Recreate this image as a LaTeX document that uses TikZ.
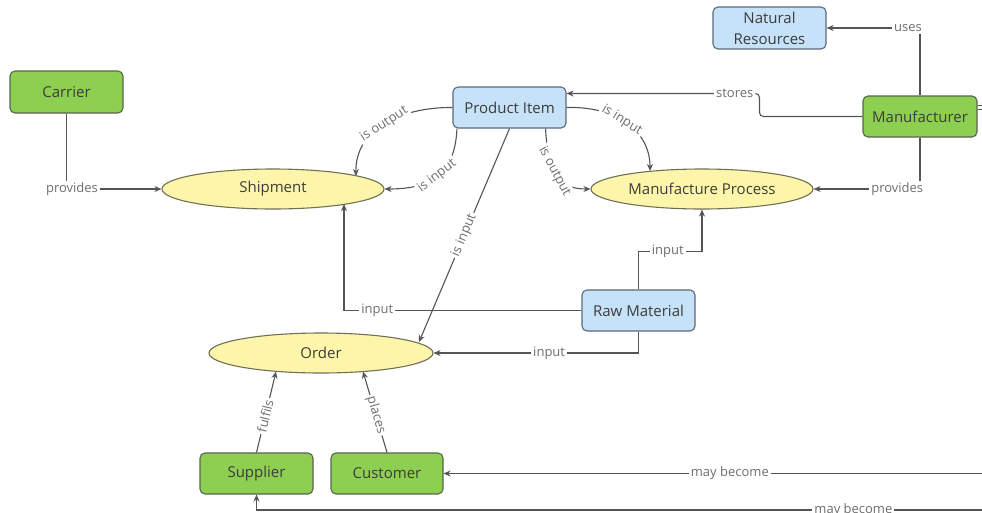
\documentclass[tikz,border=0pt]{standalone}
\usepackage{fontspec}
\setmainfont{Open Sans}
\usetikzlibrary{arrows.meta,calc,shapes.geometric}
\definecolor{gfill}{RGB}{141,207,80}
\definecolor{gdraw}{RGB}{88,100,80}
\definecolor{bfill}{RGB}{198,226,248}
\definecolor{bdraw}{RGB}{92,106,120}
\definecolor{yfill}{RGB}{253,246,170}
\definecolor{ydraw}{RGB}{112,112,84}
\definecolor{linec}{RGB}{85,85,85}
\definecolor{labc}{RGB}{110,110,110}
\definecolor{txtc}{RGB}{60,60,60}
\tikzset{
  boxbase/.style={rectangle, rounded corners=5pt, line width=1.1pt, inner sep=0pt,
    text=txtc, align=center, font=\fontsize{15}{21}\selectfont},
  gbox/.style={boxbase, fill=gfill, draw=gdraw},
  bbox/.style={boxbase, fill=bfill, draw=bdraw},
  ellbox/.style={ellipse, fill=yfill, draw=ydraw, line width=1.1pt, inner sep=0pt,
    minimum width=222pt, minimum height=40pt, text=txtc, font=\fontsize{15}{18}\selectfont},
  conn/.style={draw=linec, line width=1.1pt, -{Stealth[length=7pt,width=6pt]}},
  lab/.style={fill=white, text=labc, inner sep=2pt, font=\fontsize{13}{15}\selectfont},
}
\begin{document}
\begin{tikzpicture}[x=1pt,y=-1pt]
\fill[white] (0,0) rectangle (982,512);
\useasboundingbox (0,0) rectangle (982,512);

% nodes
\node[bbox, minimum width=113pt, minimum height=42pt] (nr) at (769.5,28) {Natural\\Resources};
\node[gbox, minimum width=113pt, minimum height=42pt] (carrier) at (66.5,92) {Carrier};
\node[bbox, minimum width=113pt, minimum height=41pt] (pi) at (509.5,107.5) {Product Item};
\node[gbox, minimum width=114pt, minimum height=41pt] (mf) at (920,116.5) {Manufacturer};
\node[ellbox] (ship) at (273,189) {Shipment};
\node[ellbox] (mp) at (702,189) {Manufacture Process};
\node[bbox, minimum width=113pt, minimum height=41pt] (rm) at (638.5,310.5) {Raw Material};
\node[ellbox, minimum width=224pt] (order) at (321,353) {Order};
\node[gbox, minimum width=113pt, minimum height=41pt] (sup) at (256.5,473.5) {Supplier};
\node[gbox, minimum width=112pt, minimum height=41pt] (cus) at (387,473.5) {Customer};

% off-canvas helper coordinates
\coordinate (offa) at (992,105);
\coordinate (offb) at (998,510);

% Manufacturer connectors
\draw[conn] (mf.north) |- (nr.east) node[lab, pos=0.564] {uses};
\draw[conn, rounded corners=4pt] (mf.west) -- ++(-103,0) |- ([yshift=14pt]pi.east) node[lab, pos=0.564] {stores};
\draw[conn] (mf.south) |- (mp.east) node[lab, pos=0.607] {provides};
\draw[conn] ([yshift=11pt]mf.east) -| (offa) |- (cus.east) node[lab, pos=0.739] {may become};
\draw[conn] ([yshift=7pt]mf.east) -| (offb) -| (sup.south) node[lab, pos=0.0975] {may become};

% Carrier
\draw[conn] (carrier.south) |- (ship.west) node[lab, pos=0.529] {provides};

% Product item curves
\draw[conn] (pi.west) .. controls (400,107) and (355,130) .. ($(ship.center)+(83pt,13pt)$)
  node[lab, sloped, pos=0.5] {is output};
\draw[conn] ([xshift=4.5pt]pi.south west) .. controls (455,175) and (430,189) .. (ship.east)
  node[lab, sloped, pos=0.5] {is input};
\draw[conn] (pi.east) .. controls (615,106) and (650,130) .. ($(mp.center)+(-52pt,18pt)$)
  node[lab, sloped, pos=0.45] {is input};
\draw[conn] ([xshift=-21pt]pi.south east) .. controls (548,175) and (560,189) .. (mp.west)
  node[lab, sloped, pos=0.42] {is output};
\draw[conn] (pi.south) -- ($(order.center)+(98pt,11pt)$) node[lab, sloped, pos=0.5] {is input};

% Raw material
\draw[conn] (rm.north) |- ($(mp.south)+(0,42)$) node[lab, pos=0.73] {input} -- (mp.south);
\draw[conn] (rm.west) -| ($(ship.center)+(71pt,-15pt)$) node[lab, pos=0.43] {input};
\draw[conn] (rm.south) |- (order.east) node[lab, pos=0.718] {input};

% Supplier / Customer to Order
\draw[conn] (sup.north) -- ($(order.center)+(-45pt,-18.5pt)$) node[lab, sloped, pos=0.45] {fulfils};
\draw[conn] (cus.north) -- ($(order.center)+(42pt,-18.5pt)$) node[lab, sloped, pos=0.46] {places};
\end{tikzpicture}
\end{document}
